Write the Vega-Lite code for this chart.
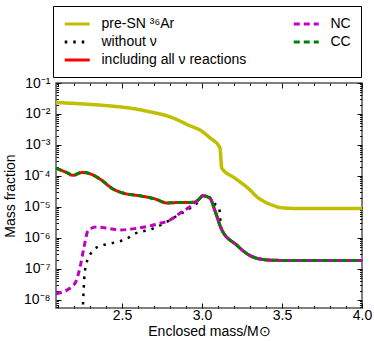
{
  "$schema": "https://vega.github.io/schema/vega-lite/v6.json",
  "width": 306,
  "height": 225,
  "autosize": "none",
  "padding": {"left": 56, "top": 83, "right": 12, "bottom": 33},
  "config": {
    "font": "Liberation Sans",
    "view": {"stroke": "#555555", "strokeWidth": 1.5},
    "axis": {"grid": false, "domain": false, "tickColor": "#111111", "tickWidth": 1, "labelFontSize": 14, "titleFontSize": 14, "titleFontWeight": "normal", "labelColor": "black", "titleColor": "black", "labelFont": "Liberation Sans", "titleFont": "Liberation Sans"}
  },
  "data": {"values": [
    {"s": "pre-SN ³⁶Ar", "m": 2.0875, "v": 0.02344},
    {"s": "pre-SN ³⁶Ar", "m": 2.2375, "v": 0.02138},
    {"s": "pre-SN ³⁶Ar", "m": 2.425, "v": 0.0182},
    {"s": "pre-SN ³⁶Ar", "m": 2.55, "v": 0.01549},
    {"s": "pre-SN ³⁶Ar", "m": 2.675, "v": 0.01175},
    {"s": "pre-SN ³⁶Ar", "m": 2.8, "v": 0.00813},
    {"s": "pre-SN ³⁶Ar", "m": 2.925, "v": 0.00417},
    {"s": "pre-SN ³⁶Ar", "m": 2.9875, "v": 0.00302},
    {"s": "pre-SN ³⁶Ar", "m": 3.05, "v": 0.0017},
    {"s": "pre-SN ³⁶Ar", "m": 3.1125, "v": 0.000794},
    {"s": "pre-SN ³⁶Ar", "m": 3.123, "v": 0.000182},
    {"s": "pre-SN ³⁶Ar", "m": 3.206, "v": 8.51e-5},
    {"s": "pre-SN ³⁶Ar", "m": 3.3, "v": 3.55e-5},
    {"s": "pre-SN ³⁶Ar", "m": 3.342, "v": 2.14e-5},
    {"s": "pre-SN ³⁶Ar", "m": 3.406, "v": 1.35e-5},
    {"s": "pre-SN ³⁶Ar", "m": 3.456, "v": 1.07e-5},
    {"s": "pre-SN ³⁶Ar", "m": 3.4875, "v": 9.55e-6},
    {"s": "pre-SN ³⁶Ar", "m": 3.6125, "v": 8.91e-6},
    {"s": "pre-SN ³⁶Ar", "m": 4.0, "v": 8.91e-6},

    {"s": "without ν", "m": 2.247, "v": 3e-10},
    {"s": "without ν", "m": 2.269, "v": 9.3e-8},
    {"s": "without ν", "m": 2.3, "v": 2.82e-7},
    {"s": "without ν", "m": 2.352, "v": 5.25e-7},
    {"s": "without ν", "m": 2.436, "v": 6.76e-7},
    {"s": "without ν", "m": 2.519, "v": 8.91e-7},
    {"s": "without ν", "m": 2.592, "v": 1.45e-6},
    {"s": "without ν", "m": 2.675, "v": 1.86e-6},
    {"s": "without ν", "m": 2.756, "v": 2.82e-6},
    {"s": "without ν", "m": 2.819, "v": 4.37e-6},
    {"s": "without ν", "m": 2.906, "v": 7.94e-6},
    {"s": "without ν", "m": 2.969, "v": 1.32e-5},
    {"s": "without ν", "m": 3.006, "v": 2.29e-5},
    {"s": "without ν", "m": 3.05, "v": 2.0e-5},
    {"s": "without ν", "m": 3.081, "v": 1.26e-5},
    {"s": "without ν", "m": 3.108, "v": 8.51e-6},
    {"s": "without ν", "m": 3.117, "v": 2.95e-6},
    {"s": "without ν", "m": 3.123, "v": 1.86e-6},
    {"s": "without ν", "m": 3.217, "v": 5.89e-7},
    {"s": "without ν", "m": 3.2875, "v": 2.95e-7},
    {"s": "without ν", "m": 3.3625, "v": 2.09e-7},
    {"s": "without ν", "m": 3.444, "v": 1.91e-7},
    {"s": "without ν", "m": 3.6125, "v": 1.86e-7},
    {"s": "without ν", "m": 4.0, "v": 1.86e-7},

    {"s": "including all ν reactions", "m": 2.0875, "v": 1.778e-4},
    {"s": "including all ν reactions", "m": 2.15, "v": 1.318e-4},
    {"s": "including all ν reactions", "m": 2.194, "v": 1.047e-4},
    {"s": "including all ν reactions", "m": 2.25, "v": 1.288e-4},
    {"s": "including all ν reactions", "m": 2.3, "v": 1.175e-4},
    {"s": "including all ν reactions", "m": 2.3625, "v": 7.94e-5},
    {"s": "including all ν reactions", "m": 2.444, "v": 3.8e-5},
    {"s": "including all ν reactions", "m": 2.506, "v": 2.82e-5},
    {"s": "including all ν reactions", "m": 2.6125, "v": 2.29e-5},
    {"s": "including all ν reactions", "m": 2.706, "v": 1.82e-5},
    {"s": "including all ν reactions", "m": 2.781, "v": 1.35e-5},
    {"s": "including all ν reactions", "m": 2.83, "v": 1.38e-5},
    {"s": "including all ν reactions", "m": 2.944, "v": 1.41e-5},
    {"s": "including all ν reactions", "m": 2.975, "v": 1.66e-5},
    {"s": "including all ν reactions", "m": 3.006, "v": 2.29e-5},
    {"s": "including all ν reactions", "m": 3.05, "v": 1.91e-5},
    {"s": "including all ν reactions", "m": 3.081, "v": 7.59e-6},
    {"s": "including all ν reactions", "m": 3.123, "v": 1.86e-6},
    {"s": "including all ν reactions", "m": 3.217, "v": 5.89e-7},
    {"s": "including all ν reactions", "m": 3.2875, "v": 2.95e-7},
    {"s": "including all ν reactions", "m": 3.3625, "v": 2.09e-7},
    {"s": "including all ν reactions", "m": 3.444, "v": 1.91e-7},
    {"s": "including all ν reactions", "m": 3.6125, "v": 1.86e-7},
    {"s": "including all ν reactions", "m": 4.0, "v": 1.86e-7},

    {"s": "NC", "m": 2.0875, "v": 1.585e-8},
    {"s": "NC", "m": 2.1875, "v": 2.69e-8},
    {"s": "NC", "m": 2.2125, "v": 3.98e-8},
    {"s": "NC", "m": 2.2375, "v": 1.12e-7},
    {"s": "NC", "m": 2.2625, "v": 5.01e-7},
    {"s": "NC", "m": 2.2875, "v": 1.74e-6},
    {"s": "NC", "m": 2.3375, "v": 2.24e-6},
    {"s": "NC", "m": 2.425, "v": 2.0e-6},
    {"s": "NC", "m": 2.4875, "v": 1.82e-6},
    {"s": "NC", "m": 2.58, "v": 2.0e-6},
    {"s": "NC", "m": 2.675, "v": 2.45e-6},
    {"s": "NC", "m": 2.7375, "v": 2.95e-6},
    {"s": "NC", "m": 2.8, "v": 3.8e-6},
    {"s": "NC", "m": 2.8625, "v": 6.31e-6},
    {"s": "NC", "m": 2.925, "v": 1.02e-5},
    {"s": "NC", "m": 2.975, "v": 1.66e-5},
    {"s": "NC", "m": 3.006, "v": 2.29e-5},
    {"s": "NC", "m": 3.05, "v": 1.91e-5},
    {"s": "NC", "m": 3.081, "v": 7.59e-6},
    {"s": "NC", "m": 3.123, "v": 1.86e-6},
    {"s": "NC", "m": 3.217, "v": 5.89e-7},
    {"s": "NC", "m": 3.2875, "v": 2.95e-7},
    {"s": "NC", "m": 3.3625, "v": 2.09e-7},
    {"s": "NC", "m": 3.444, "v": 1.91e-7},
    {"s": "NC", "m": 3.6125, "v": 1.86e-7},
    {"s": "NC", "m": 4.0, "v": 1.86e-7},

    {"s": "CC", "m": 2.0875, "v": 1.778e-4},
    {"s": "CC", "m": 2.15, "v": 1.33e-4},
    {"s": "CC", "m": 2.194, "v": 1.07e-4},
    {"s": "CC", "m": 2.25, "v": 1.32e-4},
    {"s": "CC", "m": 2.3, "v": 1.19e-4},
    {"s": "CC", "m": 2.3625, "v": 7.94e-5},
    {"s": "CC", "m": 2.444, "v": 3.8e-5},
    {"s": "CC", "m": 2.506, "v": 2.82e-5},
    {"s": "CC", "m": 2.6125, "v": 2.29e-5},
    {"s": "CC", "m": 2.706, "v": 1.82e-5},
    {"s": "CC", "m": 2.781, "v": 1.35e-5},
    {"s": "CC", "m": 2.83, "v": 1.38e-5},
    {"s": "CC", "m": 2.944, "v": 1.41e-5},
    {"s": "CC", "m": 2.975, "v": 1.66e-5},
    {"s": "CC", "m": 3.006, "v": 2.29e-5},
    {"s": "CC", "m": 3.05, "v": 1.91e-5},
    {"s": "CC", "m": 3.081, "v": 7.59e-6},
    {"s": "CC", "m": 3.123, "v": 1.86e-6},
    {"s": "CC", "m": 3.217, "v": 5.89e-7},
    {"s": "CC", "m": 3.2875, "v": 2.95e-7},
    {"s": "CC", "m": 3.3625, "v": 2.09e-7},
    {"s": "CC", "m": 3.444, "v": 1.91e-7},
    {"s": "CC", "m": 3.6125, "v": 1.86e-7},
    {"s": "CC", "m": 4.0, "v": 1.86e-7}
  ]},
  "layer": [
    {
      "transform": [{"filter": "datum.s === 'pre-SN ³⁶Ar'"}],
      "mark": {"type": "line", "strokeWidth": 3.5, "clip": true, "interpolate": "monotone"},
      "encoding": {
        "x": {"field": "m", "type": "quantitative", "scale": {"domain": [2.0875, 4.0], "nice": false, "zero": false},
          "axis": {"orient": "bottom", "title": "Enclosed mass/M⊙", "values": [2.5, 3.0, 3.5, 4.0], "format": ".1f",
            "ticks": false, "labelPadding": 0, "titlePadding": 2, "labelFlush": false}},
        "y": {"field": "v", "type": "quantitative", "scale": {"type": "log", "domain": [5.5e-9, 0.1], "nice": false},
          "axis": {"orient": "left", "title": "Mass fraction", "ticks": false,
            "values": [1e-8, 1e-7, 1e-6, 1e-5, 1e-4, 1e-3, 1e-2, 1e-1],
            "labelExpr": "'10⁻' + ['⁰','¹','²','³','⁴','⁵','⁶','⁷','⁸','⁹'][-round(log(datum.value)/LN10)]",
            "labelPadding": 6, "titlePadding": 6, "labelFlush": false}},
        "color": {"field": "s", "type": "nominal",
          "scale": {"domain": ["pre-SN ³⁶Ar", "without ν", "including all ν reactions", "NC", "CC"], "range": ["#bfbf00", "#000000", "#ff0000", "#bf00bf", "#008000"]},
          "legend": {"title": null, "orient": "none", "legendX": -3, "legendY": -77, "columns": 2, "columnPadding": 40, "rowPadding": 3, "symbolType": "M-1,0H3", "symbolSize": 156.25, "symbolStrokeWidth": 3, "labelFontSize": 14, "labelOffset": 22.5, "padding": 10, "strokeColor": "black", "fillColor": "white", "labelColor": "black", "labelFont": "Liberation Sans", "labelLimit": 300}},
        "strokeDash": {"field": "s", "type": "nominal",
          "scale": {"domain": ["pre-SN ³⁶Ar", "without ν", "including all ν reactions", "NC", "CC"], "range": [[1, 0], [2.5, 6], [1, 0], [6, 4], [6, 4]]},
          "legend": {"title": null, "orient": "none", "legendX": -3, "legendY": -77, "columns": 2, "columnPadding": 40, "rowPadding": 3, "symbolType": "M-1,0H3", "symbolSize": 156.25, "symbolStrokeWidth": 3, "labelFontSize": 14, "labelOffset": 22.5, "padding": 10, "strokeColor": "black", "fillColor": "white", "labelColor": "black", "labelFont": "Liberation Sans", "labelLimit": 300}}
      }
    },
    {
      "transform": [{"filter": "datum.s === 'without ν'"}],
      "mark": {"type": "line", "strokeWidth": 2.5, "clip": true, "interpolate": "monotone"},
      "encoding": {
        "x": {"field": "m", "type": "quantitative", "axis": null},
        "y": {"field": "v", "type": "quantitative", "axis": null},
        "color": {"field": "s", "type": "nominal"},
        "strokeDash": {"field": "s", "type": "nominal"}
      }
    },
    {
      "transform": [{"filter": "datum.s === 'including all ν reactions'"}],
      "mark": {"type": "line", "strokeWidth": 3, "clip": true, "interpolate": "monotone"},
      "encoding": {
        "x": {"field": "m", "type": "quantitative", "axis": null},
        "y": {"field": "v", "type": "quantitative", "axis": null},
        "color": {"field": "s", "type": "nominal"},
        "strokeDash": {"field": "s", "type": "nominal"}
      }
    },
    {
      "transform": [{"filter": "datum.s === 'NC'"}],
      "mark": {"type": "line", "strokeWidth": 3, "clip": true, "interpolate": "monotone"},
      "encoding": {
        "x": {"field": "m", "type": "quantitative", "axis": null},
        "y": {"field": "v", "type": "quantitative", "axis": null},
        "color": {"field": "s", "type": "nominal"},
        "strokeDash": {"field": "s", "type": "nominal"}
      }
    },
    {
      "transform": [{"filter": "datum.s === 'CC'"}],
      "mark": {"type": "line", "strokeWidth": 3, "clip": true, "interpolate": "monotone"},
      "encoding": {
        "x": {"field": "m", "type": "quantitative", "axis": null},
        "y": {"field": "v", "type": "quantitative", "axis": null},
        "color": {"field": "s", "type": "nominal"},
        "strokeDash": {"field": "s", "type": "nominal"}
      }
    },
    {
      "transform": [{"filter": "datum.s === 'CC'"}],
      "mark": {"type": "line", "strokeOpacity": 0, "clip": true},
      "encoding": {
        "x": {"field": "m", "type": "quantitative",
          "axis": {"orient": "top", "offset": -225, "title": null, "labels": false, "values": [2.1,2.2,2.3,2.4,2.5,2.6,2.7,2.8,2.9,3.0,3.1,3.2,3.3,3.4,3.5,3.6,3.7,3.8,3.9,4.0],
            "tickSize": {"condition": {"test": "abs(datum.value*2-round(datum.value*2))<0.001", "value": 5}, "value": 2.5}}},
        "y": {"field": "v", "type": "quantitative",
          "axis": {"orient": "right", "offset": -306, "title": null, "labels": false,
            "values": [6e-9,7e-9,8e-9,9e-9,1e-8,2e-8,3e-8,4e-8,5e-8,6e-8,7e-8,8e-8,9e-8,1e-7,2e-7,3e-7,4e-7,5e-7,6e-7,7e-7,8e-7,9e-7,1e-6,2e-6,3e-6,4e-6,5e-6,6e-6,7e-6,8e-6,9e-6,1e-5,2e-5,3e-5,4e-5,5e-5,6e-5,7e-5,8e-5,9e-5,1e-4,2e-4,3e-4,4e-4,5e-4,6e-4,7e-4,8e-4,9e-4,1e-3,2e-3,3e-3,4e-3,5e-3,6e-3,7e-3,8e-3,9e-3,1e-2,2e-2,3e-2,4e-2,5e-2,6e-2,7e-2,8e-2,9e-2,1e-1],
            "tickSize": {"condition": {"test": "abs(log(datum.value)/LN10-round(log(datum.value)/LN10))<0.001", "value": 5}, "value": 2.5}}}
      }
    },
    {
      "transform": [{"filter": "datum.s === 'CC'"}],
      "mark": {"type": "line", "strokeOpacity": 0, "clip": true},
      "encoding": {
        "x": {"field": "m", "type": "quantitative",
          "axis": {"orient": "bottom", "offset": -225, "title": null, "labels": false, "values": [2.1,2.2,2.3,2.4,2.5,2.6,2.7,2.8,2.9,3.0,3.1,3.2,3.3,3.4,3.5,3.6,3.7,3.8,3.9,4.0],
            "tickSize": {"condition": {"test": "abs(datum.value*2-round(datum.value*2))<0.001", "value": 5}, "value": 2.5}}},
        "y": {"field": "v", "type": "quantitative",
          "axis": {"orient": "left", "offset": -306, "title": null, "labels": false,
            "values": [6e-9,7e-9,8e-9,9e-9,1e-8,2e-8,3e-8,4e-8,5e-8,6e-8,7e-8,8e-8,9e-8,1e-7,2e-7,3e-7,4e-7,5e-7,6e-7,7e-7,8e-7,9e-7,1e-6,2e-6,3e-6,4e-6,5e-6,6e-6,7e-6,8e-6,9e-6,1e-5,2e-5,3e-5,4e-5,5e-5,6e-5,7e-5,8e-5,9e-5,1e-4,2e-4,3e-4,4e-4,5e-4,6e-4,7e-4,8e-4,9e-4,1e-3,2e-3,3e-3,4e-3,5e-3,6e-3,7e-3,8e-3,9e-3,1e-2,2e-2,3e-2,4e-2,5e-2,6e-2,7e-2,8e-2,9e-2,1e-1],
            "tickSize": {"condition": {"test": "abs(log(datum.value)/LN10-round(log(datum.value)/LN10))<0.001", "value": 5}, "value": 2.5}}}
      }
    }
  ],
  "resolve": {"axis": {"x": "independent", "y": "independent"}}
}
